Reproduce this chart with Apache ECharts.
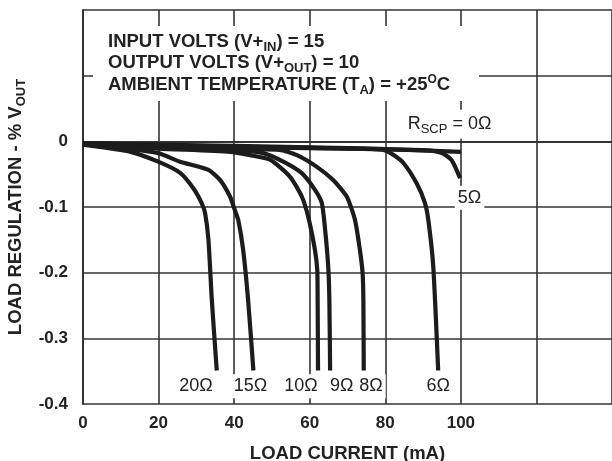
<!DOCTYPE html>
<html>
<head>
<meta charset="utf-8">
<script src="https://cdn.jsdelivr.net/npm/echarts@6/dist/echarts.min.js"></script>
<style>
  html, body { margin: 0; padding: 0; background: #fff; }
  #chart { width: 612px; height: 461px; }
</style>
</head>
<body>
<div id="chart"></div>
<script>
// load current (mA) / load regulation (% Vout), one pair per R_SCP
const r0X = [0, 20, 40, 60, 80, 100];
const r0Y = [-0.003, -0.005, -0.007, -0.009, -0.012, -0.016];
const r5X = [0, 40, 80, 92, 95.4, 97.6, 99.8];
const r5Y = [-0.003, -0.008, -0.012, -0.014, -0.019, -0.029, -0.056];
const r6X = [0, 40, 70, 79.5, 82.1, 84.8, 88.3, 90.5, 91.4, 92.7, 94.0];
const r6Y = [-0.003, -0.009, -0.011, -0.013, -0.0206, -0.033, -0.064, -0.094, -0.120, -0.191, -0.349];
const r8X = [0, 30, 52, 56.6, 61.8, 66.2, 69.8, 72.0, 73.3, 74.0, 74.2, 74.3];
const r8Y = [-0.004, -0.010, -0.013, -0.021, -0.0385, -0.059, -0.084, -0.120, -0.166, -0.201, -0.242, -0.349];
const r9X = [0, 30, 40, 47.7, 53.0, 57.9, 61.4, 63.2, 64.0, 64.9, 65.2, 65.4];
const r9Y = [-0.004, -0.011, -0.013, -0.018, -0.031, -0.0485, -0.074, -0.094, -0.130, -0.191, -0.242, -0.349];
const r10X = [0, 20, 38.9, 44.2, 49.5, 54.8, 57.9, 59.6, 61.4, 62.0, 62.1, 62.2];
const r10Y = [-0.004, -0.011, -0.016, -0.021, -0.028, -0.054, -0.084, -0.115, -0.166, -0.196, -0.242, -0.349];
const r15X = [0, 10, 19.9, 25.7, 33.2, 36.3, 38.9, 40.2, 41.1, 42.4, 43.7, 45.1];
const r15Y = [-0.004, -0.010, -0.018, -0.031, -0.0435, -0.059, -0.084, -0.105, -0.120, -0.166, -0.242, -0.349];
const r20X = [0, 12.4, 19.9, 25.7, 29.2, 31.4, 32.3, 33.2, 34.1, 35.4];
const r20Y = [-0.005, -0.0156, -0.031, -0.048, -0.0715, -0.094, -0.109, -0.150, -0.242, -0.349];

const xTickLabels = ['0', '20', '40', '60', '80', '100'];
const yTickLabels = ['0', '-0.1', '-0.2', '-0.3', '-0.4'];

// where each curve's name sits (data units)
const labelText = ['{r|R}{s|SCP}{r| = 0Ω}', '5Ω', '6Ω', '8Ω', '9Ω', '10Ω', '15Ω', '20Ω'];
const labelAt = [[97.0, 0.026], [102.3, -0.086], [94.0, -0.373], [76.2, -0.373], [68.5, -0.373], [57.7, -0.373], [44.3, -0.373], [29.9, -0.373]];

const curvesX = [r0X, r5X, r6X, r8X, r9X, r10X, r15X, r20X];
const curvesY = [r0Y, r5Y, r6Y, r8Y, r9Y, r10Y, r15Y, r20Y];

const font = "'Liberation Sans', Arial, sans-serif";
const ink = '#1c1c1c';

const chart = echarts.init(document.getElementById('chart'));

const series = curvesX.map((xs, i) => ({
  type: 'line',
  data: xs.map((x, j) => [x, curvesY[i][j]]),
  symbol: 'none',
  smooth: 0.2,
  lineStyle: { color: ink, width: 4.2, join: 'round' },
  z: 3,
  markPoint: {
    symbol: 'rect',
    symbolSize: 0,
    silent: true,
    data: [{ coord: labelAt[i] }],
    label: {
      show: true,
      position: 'inside',
      formatter: labelText[i],
      color: '#222',
      fontFamily: font,
      fontSize: 18,
      backgroundColor: '#fff',
      padding: [3, 3, 3, 3],
      rich: {
        r: { fontFamily: font, fontSize: 18, color: '#222' },
        s: { fontFamily: font, fontSize: 13, color: '#222', padding: [10, 0, 0, 0] }
      }
    }
  }
}));

const subBold = { fontFamily: font, fontWeight: 'bold', fontSize: 13, fill: '#222', padding: [10, 0, 0, 0] };
const mainBold = { fontFamily: font, fontWeight: 'bold', fontSize: 18.5, fill: '#222' };

const option = {
  animation: false,
  backgroundColor: '#fff',
  grid: { left: 83, right: 0, top: 10, bottom: 57, outerBoundsMode: 'none' },
  xAxis: {
    type: 'value',
    min: 0,
    max: 140,
    interval: 20,
    name: 'LOAD CURRENT (mA)',
    nameLocation: 'middle',
    nameGap: 40,
    nameTextStyle: { fontFamily: font, fontWeight: 'bold', fontSize: 18.5, color: '#222' },
    axisLine: { lineStyle: { color: '#333', width: 2 } },
    axisTick: { show: false },
    axisLabel: {
      fontFamily: font, fontWeight: 'bold', fontSize: 17, color: '#222', margin: 11,
      formatter: v => xTickLabels[Math.round(v / 20)] || ''
    },
    splitLine: { show: true, lineStyle: { color: '#333', width: 1.6 } }
  },
  yAxis: {
    type: 'value',
    min: -0.4,
    max: 0.2,
    interval: 0.1,
    name: '{a|LOAD REGULATION - % V}{s|OUT}',
    nameLocation: 'middle',
    nameGap: 49,
    nameTextStyle: {
      rich: {
        a: { fontFamily: font, fontWeight: 'bold', fontSize: 18.5, color: '#222' },
        s: { fontFamily: font, fontWeight: 'bold', fontSize: 13, color: '#222', padding: [10, 0, 0, 0] }
      }
    },
    axisLine: { lineStyle: { color: '#333', width: 2 } },
    axisTick: { show: false },
    axisLabel: {
      fontFamily: font, fontWeight: 'bold', fontSize: 17, color: '#222', margin: 15,
      formatter: v => {
        const k = Math.round(-v * 10);
        return k >= 0 ? (yTickLabels[k] || '') : '';
      }
    },
    splitLine: { show: true, lineStyle: { color: '#333', width: 1.6 } }
  },
  graphic: [
    { type: 'rect', z: 1, shape: { x: 93, y: 26, width: 386, height: 75 }, style: { fill: '#fff' } },
    {
      type: 'text', z: 2, x: 108, y: 42,
      style: {
        text: '{b|INPUT VOLTS (V+}{s|IN}{b|) = 15}',
        verticalAlign: 'middle',
        rich: { b: mainBold, s: subBold }
      }
    },
    {
      type: 'text', z: 2, x: 108, y: 63,
      style: {
        text: '{b|OUTPUT VOLTS (V+}{s|OUT}{b|) = 10}',
        verticalAlign: 'middle',
        rich: { b: mainBold, s: subBold }
      }
    },
    {
      type: 'text', z: 2, x: 108, y: 85,
      style: {
        text: '{b|AMBIENT TEMPERATURE (T}{s|A}{b|) = +25}{u|O}{b|C}',
        verticalAlign: 'middle',
        rich: {
          b: mainBold,
          s: subBold,
          u: { fontFamily: font, fontWeight: 'bold', fontSize: 12, fill: '#222', padding: [0, 0, 11, 0] }
        }
      }
    }
  ],
  series: series
};

chart.setOption(option);
</script>
</body>
</html>
